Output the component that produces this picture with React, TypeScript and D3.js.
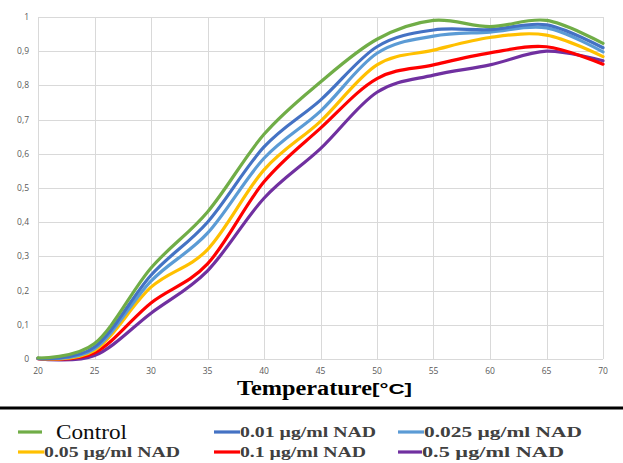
import React from "react";
import * as d3 from "d3";

// temperature steps (°C)
const temps = [20, 25, 30, 35, 40, 45, 50, 55, 60, 65, 70];

const control = [0.003, 0.045, 0.266, 0.43, 0.657, 0.81, 0.935, 0.99, 0.972, 0.99, 0.923];
const nad001 = [0.002, 0.035, 0.245, 0.4, 0.62, 0.757, 0.913, 0.962, 0.963, 0.977, 0.91];
const nad0025 = [0.002, 0.03, 0.228, 0.368, 0.587, 0.725, 0.894, 0.944, 0.956, 0.968, 0.898];
const nad005 = [0.002, 0.025, 0.21, 0.32, 0.553, 0.695, 0.86, 0.903, 0.94, 0.947, 0.884];
const nad01 = [0.001, 0.018, 0.164, 0.278, 0.518, 0.675, 0.82, 0.86, 0.895, 0.913, 0.862];
const nad05 = [0.001, 0.01, 0.134, 0.258, 0.47, 0.615, 0.78, 0.83, 0.86, 0.9, 0.872];

const seriesNames = [
  "Control",
  "0.01 µg/ml NAD",
  "0.025 µg/ml NAD",
  "0.05 µg/ml NAD",
  "0.1 µg/ml NAD",
  "0.5 µg/ml NAD",
];
const seriesValues = [control, nad001, nad0025, nad005, nad01, nad05];
const colors = ["#70AD47", "#4472C4", "#5B9BD5", "#FFC000", "#FF0000", "#7030A0"];

const xTicks = [20, 25, 30, 35, 40, 45, 50, 55, 60, 65, 70];
const yTicks = [0, 0.1, 0.2, 0.3, 0.4, 0.5, 0.6, 0.7, 0.8, 0.9, 1];

const W = 623;
const H = 463;
const plot = { left: 38, right: 603, top: 17, bottom: 359 };

export default function App() {
  const x = d3.scaleLinear([20, 70], [plot.left, plot.right]);
  const y = d3.scaleLinear([0, 1], [plot.bottom, plot.top]);

  const line = d3
    .line<[number, number]>()
    .curve(d3.curveCardinal.tension(0))
    .x((d) => x(d[0]))
    .y((d) => y(d[1]));

  const fmtY = (v: number) => (v === 0 || v === 1 ? String(v) : v.toFixed(1).replace(".", ","));

  // legend layout: [lineStart, lineEnd, textX, textEnd, row]
  const legendPos = [
    [18, 42, 56, 127, 0],
    [214, 240, 240, 376, 0],
    [398, 424, 424, 582, 0],
    [18, 44, 44, 180, 1],
    [214, 240, 240, 366, 1],
    [398, 422, 422, 564, 1],
  ];
  const rowY = [432, 452];

  // draw order: control on top
  const order = [5, 4, 3, 2, 1, 0];

  return (
    <svg
      width={W}
      height={H}
      style={{ position: "absolute", left: 0, top: 0, background: "#fff" }}
    >
      {/* grid */}
      <g stroke="#d9d9d9" strokeWidth={1}>
        {yTicks.map((t) => (
          <line key={"h" + t} x1={plot.left} x2={plot.right} y1={Math.round(y(t)) + 0.5} y2={Math.round(y(t)) + 0.5} />
        ))}
        {xTicks.map((t) => (
          <line key={"v" + t} x1={Math.round(x(t)) + 0.5} x2={Math.round(x(t)) + 0.5} y1={plot.top} y2={plot.bottom} />
        ))}
      </g>

      {/* y tick labels */}
      <g fontFamily="'Open Sans', sans-serif" fontSize={8.5} fill="#595959" textAnchor="end">
        {yTicks.map((t) => (
          <text key={"yl" + t} x={29} y={y(t) + 3}>
            {fmtY(t)}
          </text>
        ))}
      </g>

      {/* x tick labels */}
      <g fontFamily="'Open Sans', sans-serif" fontSize={8.5} fill="#595959" textAnchor="middle">
        {xTicks.map((t) => (
          <text key={"xl" + t} x={x(t)} y={374}>
            {t}
          </text>
        ))}
      </g>

      {/* series */}
      {order.map((i) => (
        <path
          key={seriesNames[i]}
          d={line(temps.map((t, j) => [t, seriesValues[i][j]] as [number, number])) || ""}
          fill="none"
          stroke={colors[i]}
          strokeWidth={3.2}
          strokeLinejoin="round"
          strokeLinecap="round"
        />
      ))}

      {/* axis title */}
      <text x={237} y={395} fontFamily="'Liberation Serif', 'Times New Roman', serif" fontWeight="bold" fontSize={20} fill="#000" textLength={135} lengthAdjust="spacingAndGlyphs">
        Temperature
      </text>
      <text x={372} y={394} fontFamily="'Liberation Sans', Arial, sans-serif" fontWeight="bold" fontSize={14} fill="#000" textLength={40} lengthAdjust="spacingAndGlyphs">
        [°C]
      </text>

      {/* separator */}
      <line x1={0} x2={W} y1={408} y2={408} stroke="#000" strokeWidth={3} />

      {/* legend */}
      {legendPos.map((p, i) => {
        const cy = rowY[p[4]];
        const isControl = i === 0;
        return (
          <g key={"lg" + i}>
            <line x1={p[0]} x2={p[1]} y1={cy} y2={cy} stroke={colors[i]} strokeWidth={3.2} />
            <text
              x={p[2]}
              y={cy + (isControl ? 7 : 5)}
              fontFamily="'Liberation Serif', 'Times New Roman', serif"
              fontWeight={isControl ? "normal" : "bold"}
              fontSize={isControl ? 22 : 15}
              fill={isControl ? "#0d0d0d" : "#404040"}
              textLength={p[3] - p[2]}
              lengthAdjust="spacingAndGlyphs"
            >
              {seriesNames[i]}
            </text>
          </g>
        );
      })}
    </svg>
  );
}
